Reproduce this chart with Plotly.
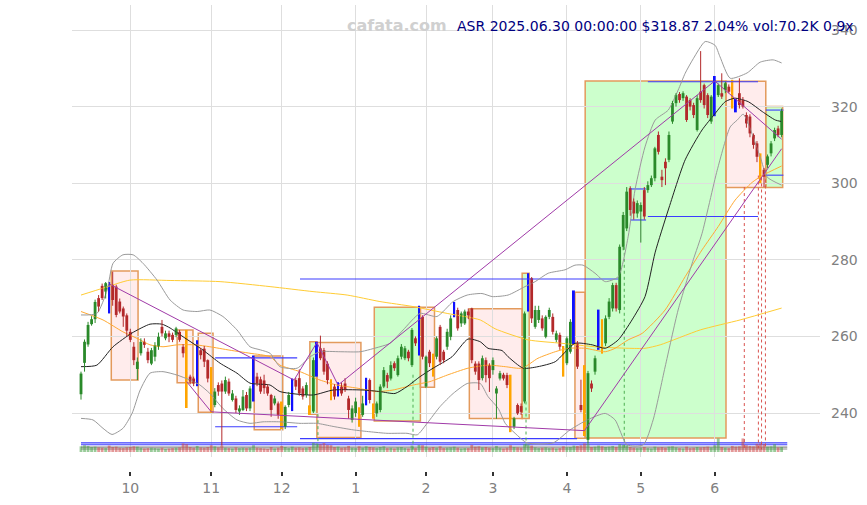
import plotly.graph_objects as go

# ---------------- data (x = trading-day index from 2024-09-11) ----------------
opens = [
    244.9, 253.1, 257.9, 263.2, 264.5, 270.0, 273.2, 271.7, 273.9, 273.4,
    273.0, 269.1, 267.3, 265.5, 261.2, 257.3, 251.5, 255.6, 258.6, 256.0,
    252.9, 254.7, 257.3, 262.5, 259.5, 260.8, 260.4, 260.4, 261.2, 257.3,
    255.6, 249.5, 249.0, 248.0, 256.4, 256.8, 253.8, 251.6, 242.1, 247.3,
    247.7, 245.6, 248.2, 243.4, 243.8, 240.4, 240.8, 244.7, 241.2, 243.4,
    249.5, 248.8, 248.5, 246.9, 244.7, 242.5, 242.5, 242.5, 236.4, 242.1,
    241.0, 248.6, 249.1, 246.4, 244.7, 241.6, 240.4, 250.0, 256.9, 256.4,
    252.9, 248.2, 246.9, 244.7, 246.9, 247.7, 243.8, 238.2, 240.0, 241.0,
    239.5, 242.5, 248.6, 242.0, 239.9, 240.8, 246.9, 249.9, 249.0, 253.0,
    249.9, 254.7, 254.3, 256.0, 252.5, 259.5, 255.6, 265.1, 246.9, 256.0,
    255.1, 254.7, 262.5, 256.0, 257.3, 259.9, 265.6, 266.9, 263.4, 263.4,
    266.5, 267.3, 252.9, 252.9, 249.1, 253.8, 252.5, 251.2, 245.1, 249.0,
    250.0, 249.9, 249.5, 236.4, 242.1, 241.8, 243.0, 266.9, 275.2, 262.5,
    264.3, 264.7, 259.9, 265.1, 265.1, 259.1, 260.4, 257.3, 253.0, 256.0,
    258.6, 258.2, 242.1, 252.1, 233.0, 247.7, 250.8, 256.9, 263.8, 258.2,
    265.1, 267.3, 273.4, 266.9, 283.4, 288.2, 298.7, 295.2, 292.1, 292.6,
    298.2, 298.2, 299.5, 301.3, 312.6, 301.7, 305.6, 306.1, 316.1, 320.9,
    323.3, 322.2, 322.6, 321.7, 320.4, 313.9, 323.9, 325.6, 323.0, 316.1,
    318.3, 323.0, 323.5, 324.3, 325.2, 326.5, 321.3, 323.5, 321.7, 317.8,
    317.4, 312.6, 310.4, 307.4, 303.5, 304.8, 307.8, 311.7, 314.3, 312.6,
]
highs = [
    250.8, 259.2, 263.8, 265.3, 269.6, 270.8, 273.8, 274.2, 274.2, 276.9,
    273.5, 269.9, 267.8, 266.0, 262.0, 258.5, 254.5, 259.5, 259.5, 257.0,
    257.0, 258.5, 261.0, 264.3, 261.5, 261.5, 261.0, 262.5, 261.7, 258.0,
    261.7, 250.0, 249.5, 259.0, 257.0, 257.5, 254.0, 252.0, 246.5, 248.0,
    248.5, 249.5, 249.0, 246.0, 244.5, 242.0, 246.0, 245.5, 247.0, 255.0,
    250.5, 249.5, 250.0, 247.5, 245.0, 244.5, 243.0, 243.0, 242.0, 245.5,
    249.0, 249.2, 251.4, 247.0, 248.0, 242.0, 254.5, 258.6, 260.2, 257.0,
    253.5, 248.8, 247.5, 248.0, 248.0, 249.1, 244.5, 242.0, 244.0, 241.5,
    244.5, 249.2, 249.0, 242.5, 243.0, 247.5, 252.0, 250.5, 253.5, 253.5,
    255.0, 258.0, 257.5, 256.5, 262.2, 260.0, 268.0, 265.5, 255.0, 256.5,
    255.5, 260.0, 263.0, 256.5, 262.0, 265.5, 269.0, 267.5, 266.5, 267.0,
    267.3, 267.5, 253.5, 253.5, 255.0, 254.5, 253.0, 254.5, 247.0, 251.0,
    250.5, 250.5, 250.0, 239.0, 242.5, 242.5, 266.5, 276.5, 275.5, 268.0,
    268.0, 265.5, 265.5, 267.5, 266.0, 261.5, 261.0, 257.5, 260.0, 264.5,
    272.0, 258.8, 248.7, 252.5, 251.0, 248.5, 255.0, 267.0, 264.5, 265.5,
    270.0, 274.0, 274.0, 284.0, 292.5, 299.0, 299.2, 296.0, 295.5, 295.0,
    299.0, 300.5, 302.0, 309.5, 313.5, 303.5, 306.5, 313.5, 321.5, 323.5,
    323.8, 324.0, 323.0, 322.2, 321.0, 323.0, 334.5, 326.0, 323.5, 323.0,
    328.0, 326.0, 328.7, 326.5, 325.8, 327.0, 322.0, 327.4, 322.5, 318.5,
    318.0, 313.0, 311.0, 307.8, 304.0, 307.5, 311.0, 314.5, 315.0, 319.5,
]
lows = [
    243.5, 250.8, 257.3, 262.8, 263.5, 266.5, 269.5, 269.9, 266.0, 268.0,
    265.0, 266.0, 262.5, 260.0, 258.5, 252.5, 248.6, 255.0, 257.0, 253.0,
    252.5, 253.5, 256.5, 260.0, 259.0, 258.5, 258.5, 259.8, 258.6, 254.5,
    241.3, 247.5, 247.0, 247.0, 254.0, 252.0, 248.0, 240.0, 241.5, 244.5,
    231.5, 245.0, 244.5, 243.0, 240.0, 239.5, 240.5, 240.5, 240.5, 243.0,
    247.0, 245.0, 245.0, 244.5, 239.0, 242.0, 238.5, 235.8, 235.8, 241.5,
    240.5, 246.0, 244.5, 243.5, 244.0, 239.5, 240.0, 249.5, 253.8, 250.0,
    247.5, 243.3, 243.5, 244.3, 244.5, 245.5, 238.5, 237.5, 239.0, 236.4,
    239.0, 242.0, 242.5, 238.5, 239.0, 240.2, 246.5, 246.5, 248.5, 251.0,
    249.5, 254.0, 253.8, 253.5, 252.0, 257.5, 255.0, 254.0, 246.5, 252.0,
    249.5, 254.0, 252.5, 253.0, 256.5, 259.0, 265.0, 261.5, 262.5, 263.0,
    264.5, 253.0, 250.0, 246.0, 248.5, 248.0, 245.5, 250.0, 238.5, 248.5,
    248.5, 246.5, 235.0, 235.8, 239.5, 239.5, 242.5, 266.5, 263.5, 262.0,
    263.5, 261.5, 259.5, 264.5, 260.5, 258.5, 256.5, 249.5, 252.5, 255.5,
    258.0, 251.5, 240.2, 234.0, 232.0, 245.5, 250.0, 256.5, 255.5, 257.5,
    264.5, 266.5, 266.5, 266.0, 282.5, 287.5, 291.5, 290.5, 291.0, 284.5,
    290.5, 297.5, 299.0, 300.5, 307.5, 299.0, 299.5, 305.5, 315.5, 320.0,
    321.0, 321.5, 316.0, 319.0, 317.0, 313.5, 321.0, 319.5, 317.0, 315.5,
    317.5, 322.5, 322.0, 323.5, 323.5, 319.5, 318.5, 319.5, 319.5, 314.5,
    312.0, 309.0, 305.5, 300.0, 299.0, 304.0, 307.0, 311.0, 312.0, 312.0,
]
closes = [
    250.3, 258.6, 263.0, 264.5, 269.0, 267.8, 270.0, 273.9, 266.5, 269.5,
    265.6, 266.5, 265.2, 261.5, 259.1, 253.8, 253.4, 258.6, 257.8, 253.8,
    256.4, 257.7, 259.9, 260.8, 260.8, 259.9, 259.1, 262.1, 259.1, 255.6,
    248.2, 248.2, 247.7, 256.0, 255.1, 253.4, 249.0, 241.0, 245.6, 245.6,
    245.6, 248.6, 245.1, 245.1, 240.8, 241.2, 244.3, 241.2, 246.4, 254.7,
    247.7, 245.6, 246.5, 245.1, 240.8, 243.8, 239.5, 236.9, 241.6, 244.7,
    248.6, 246.9, 245.1, 244.3, 247.3, 239.9, 253.8, 258.2, 254.3, 250.8,
    248.6, 243.8, 244.3, 247.3, 245.1, 246.0, 240.8, 241.2, 243.0, 237.0,
    242.5, 248.8, 243.4, 239.5, 242.5, 246.9, 251.2, 248.2, 252.5, 251.7,
    254.3, 257.3, 256.9, 254.3, 261.7, 258.2, 267.8, 254.7, 254.7, 253.0,
    249.9, 259.5, 253.4, 253.8, 261.2, 264.7, 268.6, 262.1, 266.0, 266.5,
    265.5, 253.8, 250.8, 248.6, 254.3, 249.9, 249.1, 253.8, 246.4, 250.4,
    249.0, 247.3, 235.6, 238.6, 239.9, 240.3, 266.0, 276.0, 264.7, 266.9,
    266.9, 262.1, 265.1, 266.9, 261.2, 260.8, 257.3, 252.1, 259.5, 263.8,
    271.7, 252.1, 240.8, 235.6, 250.4, 246.4, 254.3, 266.9, 256.0, 264.7,
    269.1, 273.4, 267.3, 283.4, 291.7, 297.8, 293.0, 292.1, 294.8, 294.3,
    291.3, 299.5, 301.3, 309.1, 308.2, 300.8, 303.9, 312.6, 320.9, 323.0,
    321.7, 323.5, 316.5, 320.0, 317.8, 322.2, 321.7, 320.4, 317.8, 322.6,
    327.8, 325.6, 322.6, 326.1, 323.9, 320.9, 319.1, 320.4, 320.0, 315.6,
    313.0, 310.0, 306.9, 300.8, 301.7, 307.0, 310.4, 313.9, 312.6, 318.87,
]
volumes_k = [
    80, 95, 85, 70, 75, 65, 60, 55, 90, 70,
    75, 60, 55, 65, 70, 80, 75, 60, 50, 55,
    60, 55, 50, 60, 45, 50, 55, 60, 65, 120,
    110, 70, 60, 85, 65, 60, 70, 95, 80, 65,
    90, 60, 55, 50, 65, 55, 60, 55, 60, 95,
    60, 55, 50, 45, 70, 50, 60, 85, 70, 55,
    75, 60, 65, 55, 60, 70, 130, 120, 110, 125,
    100, 95, 70, 75, 60, 65, 85, 60, 55, 80,
    60, 80, 70, 65, 55, 70, 80, 55, 60, 50,
    65, 70, 55, 50, 90, 55, 100, 95, 75, 60,
    70, 60, 80, 55, 60, 65, 75, 60, 50, 55,
    55, 100, 75, 80, 65, 70, 60, 55, 85, 60,
    50, 60, 95, 70, 65, 60, 110, 105, 90, 65,
    55, 60, 65, 55, 60, 50, 55, 80, 65, 70,
    90, 85, 95, 120, 115, 70, 75, 90, 80, 70,
    75, 85, 70, 110, 100, 95, 70, 60, 55, 60,
    70, 55, 50, 75, 65, 70, 60, 75, 80, 65,
    55, 50, 75, 55, 60, 70, 65, 70, 75, 65,
    95, 190, 70, 60, 55, 85, 75, 80, 190, 95,
    85, 80, 115, 120, 110, 75, 80, 110, 65, 70.2,
]
blue_idx = [8, 33, 49, 60, 67, 73, 81, 96, 106, 127, 140, 147, 180, 186]
orange_idx = [30, 37, 57, 65, 71, 79, 83, 100, 122, 137, 143, 148, 185, 193]

month_idx = [14, 37, 57, 78, 98, 117, 138, 159, 180]
month_labels = ["10", "11", "12", "1", "2", "3", "4", "5", "6"]
price_ticks = [240, 260, 280, 300, 320, 340]

# indicator lines
sma20_x = [0, 4.5, 9.1, 14.5, 19.6, 23.0, 25.3, 29.0, 34.7, 39.5, 44.3, 48.0, 53.7, 56.5,
           65.9, 71.6, 80.1, 84.9, 89.2, 92.6, 96.3, 100.0, 105.4, 109.9, 113.4, 115.6,
           119.6, 121.3, 125.6, 129.8, 134.7, 140.3, 145.2, 148.9, 152.6, 156.5, 160.2,
           163.1, 166.8, 171.6, 176.4, 180.1, 183.0, 185.8, 189.5, 193.5, 197.2, 199]
sma20_y = [252.1, 252.5, 257.3, 260.9, 263.2, 263.2, 262.2, 259.9, 256.4, 253.0, 250.4, 247.8,
           247.3, 245.6, 244.7, 246.0, 246.0, 245.6, 245.1, 246.9, 249.5, 251.7, 254.7, 259.3,
           258.6, 256.9, 256.3, 254.7, 251.7, 252.1, 253.4, 258.2, 257.8, 256.9, 259.1, 264.3,
           270.4, 282.0, 293.0, 306.1, 313.9, 318.2, 321.3, 322.2, 321.3, 318.7, 316.5, 316.1]
bb_up_x = [0, 4.5, 7.4, 9.1, 11.9, 14.8, 17.6, 21.6, 25.3, 29.0, 33.0, 36.6, 40.3, 44.3, 48.0,
           50.9, 53.7, 56.5, 61.4, 65.1, 67.9, 73.6, 79.3, 84.9, 87.8, 91.5, 96.3, 101.1, 105.7,
           109.7, 113.9, 116.8, 121.3, 126.1, 129.0, 132.7, 137.5, 140.3, 142.6, 146.0, 148.9,
           152.6, 155.4, 157.4, 160.2, 163.1, 166.8, 169.6, 171.6, 173.9, 177.3, 180.1, 181.5,
           184.4, 189.2, 192.9, 196.6, 199]
bb_up_y = [265.6, 266.0, 272.1, 279.1, 281.3, 281.3, 279.1, 274.7, 269.5, 266.9, 266.5, 266.9,
           265.2, 261.7, 257.3, 256.5, 255.6, 252.1, 251.7, 254.7, 256.0, 256.0, 256.0, 257.3,
           258.2, 261.7, 266.0, 265.2, 269.1, 270.8, 271.2, 270.4, 270.8, 273.0, 274.3, 276.5,
           277.4, 278.6, 278.6, 276.5, 274.3, 275.6, 286.0, 298.5, 309.5, 316.5, 319.1, 324.3,
           328.7, 332.5, 337.0, 336.0, 333.0, 327.4, 328.8, 331.6, 332.2, 331.4]
bb_lo_x = [0, 3.4, 6.25, 8.8, 11.9, 14.5, 16.8, 19.6, 23.3, 27.3, 31.0, 33.8, 36.6, 40.3, 44.3,
           48.0, 51.7, 56.5, 62.2, 67.0, 71.6, 77.3, 82.1, 86.9, 92.6, 95.5, 98.3, 102.0, 105.7,
           109.7, 113.4, 115.6, 118.5, 120.5, 123.3, 126.7, 134.1, 138.9, 143.8, 148.9, 151.7,
           155.1, 159.7, 162.5, 165.9, 169.6, 173.9, 176.4, 180.7, 184.4, 186.4, 188.1, 192.9,
           194.9, 199]
bb_lo_y = [238.6, 238.2, 236.0, 234.4, 236.0, 239.9, 246.0, 250.4, 250.8, 249.9, 248.6, 247.3,
           245.1, 241.2, 238.2, 237.3, 237.7, 237.7, 237.3, 237.3, 236.5, 235.6, 235.1, 234.7,
           234.7, 234.3, 237.3, 241.7, 245.1, 247.7, 247.7, 244.3, 241.2, 237.3, 234.7, 232.2,
           232.2, 235.6, 238.2, 239.9, 238.2, 231.7, 231.7, 238.2, 252.0, 266.9, 280.0, 286.9,
           303.4, 314.7, 316.5, 318.0, 306.9, 301.6, 299.5]
ma50_x = [0, 6.25, 11.9, 15.9, 19.6, 23.3, 27.3, 32.4, 36.6, 42.3, 48.0, 53.7, 56.5, 62.2, 67.9,
          72.7, 78.4, 84.1, 88.6, 94.3, 99.1, 104.0, 109.9, 115.6, 120.5, 125.3, 129.8, 134.7,
          138.4, 143.2, 148.9, 151.7, 155.4, 159.4, 165.9, 171.6, 176.4, 181.0, 185.8, 190.6,
          193.5, 199]
ma50_y = [266.5, 264.3, 261.2, 259.5, 257.8, 257.3, 257.8, 257.8, 257.3, 256.4, 255.6, 254.7,
          252.5, 250.8, 248.6, 247.3, 246.5, 245.6, 246.0, 247.3, 248.2, 249.9, 251.7, 252.5,
          252.1, 251.7, 254.3, 256.0, 256.9, 256.9, 256.0, 256.9, 259.1, 260.8, 266.9, 275.6,
          282.6, 288.7, 295.6, 300.2, 302.0, 304.5]
ma200_x = [0, 6.25, 13.9, 25.3, 39.5, 53.7, 65.9, 75.6, 84.9, 94.3, 104.0, 113.4, 117.6, 127.0,
           136.6, 146.0, 155.4, 160.2, 164.5, 175.9, 187.2, 199]
ma200_y = [270.8, 272.6, 274.7, 274.6, 274.3, 273.0, 271.7, 270.8, 269.1, 267.8, 266.0, 264.3,
           262.0, 259.1, 258.2, 257.3, 256.9, 256.9, 257.8, 261.7, 264.3, 267.4]

trend1_x = [8, 60.5, 67, 73, 180, 199]
trend1_y = [273.7, 248.6, 258.4, 247.3, 326.7, 311.5]
trend2_x = [30, 37, 143, 199]
trend2_y = [248.2, 240.3, 235.4, 309.0]

box_x0 = [8.6, 27.3, 33.3, 49.2, 65.0, 67.0, 83.3, 96.4, 110.3, 125.3, 140.3, 143.2, 183.2, 194.5]
box_x1 = [16.2, 31.8, 37.5, 57.3, 67.0, 79.5, 96.4, 100.4, 125.3, 127.3, 143.2, 183.2, 194.5, 199.3]
box_top = [277.1, 261.7, 260.8, 254.9, 258.6, 258.4, 267.6, 267.6, 267.2, 276.5, 271.5, 326.7, 326.6, 320.0]
box_bot = [248.6, 247.9, 240.2, 235.6, 239.7, 233.6, 237.9, 246.7, 238.6, 238.6, 233.4, 233.5, 298.9, 298.9]
box_kind = ["down", "down", "down", "down", "up", "down", "up", "down", "down", "up",
            "down", "up", "down", "up"]

level_x0 = [38.1, 38.1, 62.2, 62.2, 161.0, 161.0, 156.0, 156.0, 194.5, 194.5, 0, 0, 0, 0]
level_x1 = [61.4, 61.4, 152.6, 140.9, 192.3, 192.3, 160.5, 160.5, 199.5, 199.5, 200.6, 200.6, 200.6, 200.6]
level_y = [254.4, 236.4, 275.0, 233.3, 326.5, 291.3, 298.5, 290.4, 319.1, 302.1, 232.2, 231.7, 231.1, 230.6]
level_kind = ["blue"] * 12 + ["gray", "gray"]

green_mark_x = [67.3, 94.3, 126.4, 154.3]
green_mark_top = [239.7, 250.0, 243.0, 283.4]
red_mark_x = [188.4, 192.4, 193.3, 194.4]
red_mark_top = [299.0, 302.0, 301.5, 301.0]
mark_bottom = 230.5

title_text = "ASR 2025.06.30 00:00:00 $318.87 2.04% vol:70.2K 0.9x"
watermark = "cafata.com"

# ---------------- figure ----------------
FONT = "DejaVu Sans"
GREEN = "#2b8a2b"
RED = "#b3292b"
N = len(closes)
idx = list(range(N))
special = set(blue_idx) | set(orange_idx)

fig = go.Figure()

shapes = []
for x0, x1, t, b, k in zip(box_x0, box_x1, box_top, box_bot, box_kind):
    shapes.append(dict(type="rect", xref="x", yref="y", x0=x0, x1=x1, y0=b, y1=t,
                       line=dict(color="#e39a5c", width=1.5),
                       fillcolor="rgba(0,255,0,0.2)" if k == "up" else "rgba(255,180,180,0.25)",
                       layer="below"))

# volume
vol_colors = ["rgba(70,160,70,0.55)" if c >= o else "rgba(205,70,70,0.55)"
              for o, c in zip(opens, closes)]
fig.add_trace(go.Bar(x=idx, y=volumes_k, yaxis="y2", width=0.8,
                     marker=dict(color=vol_colors, line_width=0)))

# bottom / level lines
for x0, x1, y, k in zip(level_x0, level_x1, level_y, level_kind):
    fig.add_trace(go.Scatter(x=[x0, x1], y=[y, y], mode="lines",
                             line=dict(color="#3c3cff" if k == "blue" else "#8a8a8a", width=1.1)))

# dotted markers
for xs, tops, col in ((green_mark_x, green_mark_top, "#4caf50"), (red_mark_x, red_mark_top, "#d9534f")):
    lx, ly = [], []
    for x, t in zip(xs, tops):
        lx += [x, x, None]
        ly += [t, mark_bottom, None]
    fig.add_trace(go.Scatter(x=lx, y=ly, mode="lines", line=dict(color=col, width=1, dash="dot")))

# indicators
def ind(x, y, color, width=1.0):
    fig.add_trace(go.Scatter(x=x, y=y, mode="lines",
                             line=dict(color=color, width=width, shape="spline", smoothing=0.6)))

ind(ma200_x, ma200_y, "#ffcc33")
ind(ma50_x, ma50_y, "#ffaa33")
ind(bb_up_x, bb_up_y, "#9a9a9a")
ind(bb_lo_x, bb_lo_y, "#9a9a9a")
ind(sma20_x, sma20_y, "#222222")

# candles
for col, up in ((GREEN, True), (RED, False)):
    wx, wy, bx, bb, bh = [], [], [], [], []
    for i in idx:
        if i in special:
            continue
        if (closes[i] >= opens[i]) != up:
            continue
        wx += [i, i, None]
        wy += [lows[i], highs[i], None]
        bx.append(i)
        lo_b = min(opens[i], closes[i])
        bb.append(lo_b)
        bh.append(max(abs(closes[i] - opens[i]), 0.3))
    fig.add_trace(go.Scatter(x=wx, y=wy, mode="lines", line=dict(color=col, width=1)))
    fig.add_trace(go.Bar(x=bx, y=bh, base=bb, width=0.8, marker=dict(color=col, line_width=0)))

for ids, col in ((blue_idx, "#1010ff"), (orange_idx, "#ffa500")):
    fig.add_trace(go.Bar(x=ids, y=[highs[i] - lows[i] for i in ids], base=[lows[i] for i in ids],
                         width=0.55, marker=dict(color=col, line_width=0)))

# trend lines
fig.add_trace(go.Scatter(x=trend1_x, y=trend1_y, mode="lines", line=dict(color="#a03aa8", width=1)))
fig.add_trace(go.Scatter(x=trend2_x, y=trend2_y, mode="lines", line=dict(color="#a03aa8", width=1)))

fig.update_layout(
    width=867, height=505,
    margin=dict(l=72, r=47, t=5, b=34),
    paper_bgcolor="white", plot_bgcolor="white",
    showlegend=False, barmode="overlay", hovermode=False,
    font=dict(family=FONT),
    shapes=shapes,
    xaxis=dict(range=[-2.56, 209.9], tickmode="array", tickvals=month_idx, ticktext=month_labels,
               ticks="outside", ticklen=4, tickwidth=1.5, tickcolor="#333333",
               showgrid=True, gridcolor="#dedede", gridwidth=1, zeroline=False, showline=False,
               anchor="free", position=0,
               tickfont=dict(size=14, color="#808080", family=FONT)),
    yaxis=dict(domain=[0.03, 1], range=[228.51, 346.53], side="right", tickmode="array",
               tickvals=price_ticks, showgrid=True, gridcolor="#dedede", gridwidth=1,
               zeroline=False, showline=False, ticks="", ticklabelstandoff=10,
               tickfont=dict(size=14, color="#808080", family=FONT)),
    yaxis2=dict(overlaying="y", range=[-70, 6258], visible=False),
    annotations=[
        dict(text=watermark, xref="paper", yref="paper", x=0.4345, y=0.955,
             xanchor="center", yanchor="middle", showarrow=False,
             font=dict(size=16, color="#d0d0d0", family=FONT, weight="bold")),
        dict(text=title_text, xref="paper", yref="paper", x=1.048, y=0.955,
             xanchor="right", yanchor="middle", showarrow=False,
             font=dict(size=14, color="#000080", family=FONT)),
    ],
)

fig.write_html("out.html", config={"displayModeBar": False},
               post_script="document.body.style.margin='0';")
